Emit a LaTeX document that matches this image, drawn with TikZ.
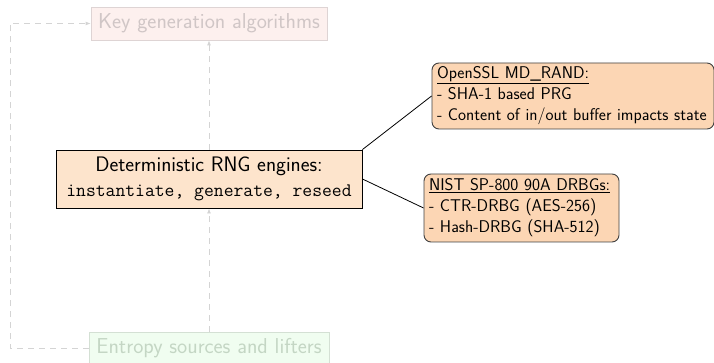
\documentclass[tikz,border=0pt]{standalone}
\usepackage{fontspec}
\usetikzlibrary{arrows.meta}
\definecolor{keyfill}{RGB}{253,240,238}
\definecolor{keydraw}{RGB}{222,212,212}
\definecolor{keytext}{RGB}{208,198,198}
\definecolor{entfill}{RGB}{240,253,240}
\definecolor{entdraw}{RGB}{212,224,212}
\definecolor{enttext}{RGB}{196,214,196}
\definecolor{mainfill}{RGB}{253,228,204}
\definecolor{notefill}{RGB}{252,214,180}
\definecolor{dashcol}{RGB}{212,212,212}
\begin{document}
\begin{tikzpicture}[x=1pt,y=-1pt,
  faded/.style={draw=#1draw,fill=#1fill,text=#1text,line width=0.8pt,inner sep=0pt,
    minimum height=33pt,font=\sffamily\fontsize{21.6}{24}\selectfont},
  mainbox/.style={draw=black,fill=mainfill,line width=0.9pt,inner sep=0pt,
    minimum width=306pt,minimum height=58pt,align=center,
    font=\sffamily\fontsize{21}{25}\selectfont},
  notebox/.style={draw=black!75,fill=notefill,line width=0.9pt,rounded corners=7pt,
    inner xsep=5pt,inner ysep=0pt,align=left,font=\sffamily\fontsize{17}{21}\selectfont},
  flow/.style={draw=dashcol,line width=0.8pt,dash pattern=on 6pt off 5pt,
    -{Latex[length=5pt,width=4pt]}},
  link/.style={draw=black,line width=0.8pt}]
\useasboundingbox (0,0) rectangle (714,363);
\node[faded=key,minimum width=236pt] (key) at (209,23.5) {Key generation algorithms};
\node[faded=ent,minimum width=240pt] (ent) at (209,348.5) {Entropy sources and lifters};
\node[mainbox] (main) at (209,179) {Deterministic RNG engines:\\{\ttfamily\fontsize{19.1}{25}\selectfont instantiate, generate, reseed}};
\node[notebox,minimum width=282pt,minimum height=66pt,text width=272pt] (ossl) at (573,96)
  {\underline{OpenSSL MD\_RAND:}\\- SHA-1 based PRG\\- Content of in/out buffer impacts state};
\node[notebox,minimum width=195pt,minimum height=68pt,text width=185pt] (nist) at (521.5,208)
  {\underline{NIST SP-800 90A DRBGs:}\\- CTR-DRBG (AES-256)\\- Hash-DRBG (SHA-512)};
\coordinate (lb) at (10,348.5);
\coordinate (lt) at (10,23.5);
\draw[flow] (ent.north) -- (main.south);
\draw[flow] (main.north) -- (key.south);
\draw[flow] (ent.west) -- (lb) -- (lt) -- (key.west);
\draw[link] (main.north east) -- (ossl.west);
\draw[link] (main.east) -- (nist.west);
\end{tikzpicture}
\end{document}
